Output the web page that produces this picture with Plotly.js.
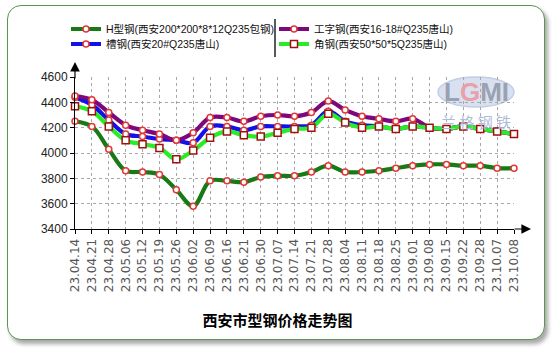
<!DOCTYPE html>
<html>
<head>
<meta charset="utf-8">
<script src="https://cdn.plot.ly/plotly-3.0.1.min.js"></script>
<style>
html,body{margin:0;padding:0;background:#fff;}
#wrap{position:relative;width:555px;height:352px;overflow:hidden;background:#fff;}
#card{position:absolute;left:7px;top:5px;width:536px;height:333px;border:1.5px solid #5b9650;border-radius:14px;box-shadow:3px 4px 4px rgba(0,0,0,0.35);background:#fff;}
#chart{position:absolute;left:0;top:0;width:555px;height:352px;}
</style>
</head>
<body>
<div id="wrap"><div id="card"></div><div id="chart"></div></div>
<script>
const categories = ['23.04.14','23.04.21','23.04.28','23.05.06','23.05.12','23.05.19','23.05.26','23.06.02','23.06.09','23.06.16','23.06.21','23.06.30','23.07.07','23.07.14','23.07.21','23.07.28','23.08.04','23.08.11','23.08.18','23.08.25','23.09.01','23.09.08','23.09.15','23.09.22','23.09.28','23.10.07','23.10.08'];
const hSteel    = [4250,4210,4030,3860,3850,3830,3710,3580,3780,3780,3770,3810,3820,3820,3850,3900,3850,3850,3860,3880,3900,3910,3910,3900,3900,3880,3880];
const channel   = [4440,4380,4260,4150,4130,4110,4100,4080,4210,4210,4180,4210,4210,4210,4220,4330,4250,4220,4210,4190,4210,4200,4190,4210,4190,4170,4150];
const iBeam     = [4450,4420,4320,4220,4180,4150,4100,4160,4280,4280,4250,4290,4300,4290,4320,4410,4340,4290,4270,4250,4270,4200,4190,4210,4190,4170,4150];
const angle     = [4370,4330,4210,4100,4070,4040,3950,4020,4120,4170,4140,4130,4160,4190,4200,4310,4240,4200,4210,4190,4210,4200,4190,4210,4190,4170,4150];
const seriesNames = ['H型钢(西安200*200*8*12Q235包钢)','槽钢(西安20#Q235唐山)','工字钢(西安16-18#Q235唐山)','角钢(西安50*50*5Q235唐山)'];
const yTicks = [3400,3600,3800,4000,4200,4400,4600];
const chartTitle = '西安市型钢价格走势图';

// pixel -> paper helpers (plot area: left 75, right 514, top 77, bottom 229)
const L=75, R=514, T=77, B=229;
const px = v => (v-L)/(R-L);
const py = v => (B-v)/(B-T);

const idx = categories.map((c,i)=>i);
const circMarker = {symbol:'circle', size:6, color:'#ffffff', line:{color:'#e03838', width:1.5}};
function mk(name, y, color, marker, legend){
  return {type:'scatter', mode:'lines+markers', name:name, x:idx, y:y,
    line:{color:color, width:4.2, shape:'spline', smoothing:1},
    marker:marker, legend:legend, cliponaxis:false};
}
const traces = [
  mk(seriesNames[0], hSteel, '#177a17', circMarker, 'legend'),
  mk(seriesNames[1], channel, '#1212e6', circMarker, 'legend2'),
  mk(seriesNames[2], iBeam, '#7d087d', circMarker, 'legend'),
  mk(seriesNames[3], angle, '#28ec28', {symbol:'square', size:7, color:'#ffffff', line:{color:'#a01010', width:1.5}}, 'legend2')
];

const legFont = {family:'Liberation Sans, Arial, Noto Sans CJK SC', size:10.5, color:'#111'};
const layout = {
  width:555, height:352,
  paper_bgcolor:'rgba(0,0,0,0)', plot_bgcolor:'rgba(0,0,0,0)',
  margin:{l:L, r:555-R, t:T, b:352-B, pad:0},
  showlegend:true,
  legend:{orientation:'h', x:px(66), xanchor:'left', y:py(29), yanchor:'middle',
    entrywidth:163, entrywidthmode:'pixels', font:legFont, bgcolor:'rgba(0,0,0,0)', itemclick:false},
  legend2:{orientation:'h', x:px(66), xanchor:'left', y:py(44), yanchor:'middle',
    entrywidth:163, entrywidthmode:'pixels', font:legFont, bgcolor:'rgba(0,0,0,0)', itemclick:false},
  title:{text:chartTitle, x:0.5, xref:'container', xanchor:'center', y:1-321/352, yref:'container', yanchor:'middle',
    font:{family:'Noto Sans CJK SC', size:15, weight:700, color:'#000'}},
  xaxis:{range:[0, categories.length-1], tickmode:'array', tickvals:idx, ticktext:categories,
    tickangle:-90, ticks:'outside', ticklen:4, tickcolor:'#000', showline:true, linecolor:'#000', linewidth:1,
    showgrid:true, gridcolor:'#a8a8a8', griddash:'dot', gridwidth:1, zeroline:false,
    tickfont:{family:'DejaVu Sans', size:12, color:'#555'}, fixedrange:true},
  yaxis:{range:[3400,4600], tickmode:'array', tickvals:yTicks, ticks:'outside', ticklen:4, tickcolor:'#000',
    showline:true, linecolor:'#000', linewidth:1, showgrid:true, gridcolor:'#a8a8a8', griddash:'dot', gridwidth:1,
    zeroline:false, tickfont:{family:'Liberation Sans, Arial', size:12, color:'#222'}, fixedrange:true},
  shapes:[
    {type:'line', xref:'paper', yref:'paper', x0:px(275), x1:px(275), y0:py(19), y1:py(57), line:{color:'#222', width:1.5}},
    {type:'circle', xref:'paper', yref:'paper', x0:px(438), x1:px(514), y0:py(107), y1:py(77), layer:'below',
      fillcolor:'#d3dcee', line:{color:'#b8c5e0', width:1.5}, opacity:0.85}
  ],
  annotations:[
    {xref:'paper', yref:'paper', x:px(531), y:0, ax:-18, ay:0, text:'', showarrow:true, arrowhead:2, arrowsize:1.6, arrowwidth:1.2, arrowcolor:'#000'},
    {xref:'paper', yref:'paper', x:0, y:py(62), ax:0, ay:18, text:'', showarrow:true, arrowhead:2, arrowsize:1.6, arrowwidth:1.2, arrowcolor:'#000'},
    {xref:'paper', yref:'paper', x:px(476), y:py(92), xanchor:'center', yanchor:'middle', text:'L<span style="color:#e9a0a8">G</span>MI', showarrow:false,
      font:{family:'Liberation Sans, Arial', size:26, weight:700, color:'#9aa2b2'}},
    {xref:'paper', yref:'paper', x:px(476), y:py(121), xanchor:'center', yanchor:'middle', text:'兰 格 钢 铁', showarrow:false,
      font:{family:'Noto Sans CJK SC', size:15, color:'#aebcda'}}
  ]
};
Plotly.newPlot('chart', traces, layout, {displayModeBar:false, staticPlot:true});
</script>
</body>
</html>
